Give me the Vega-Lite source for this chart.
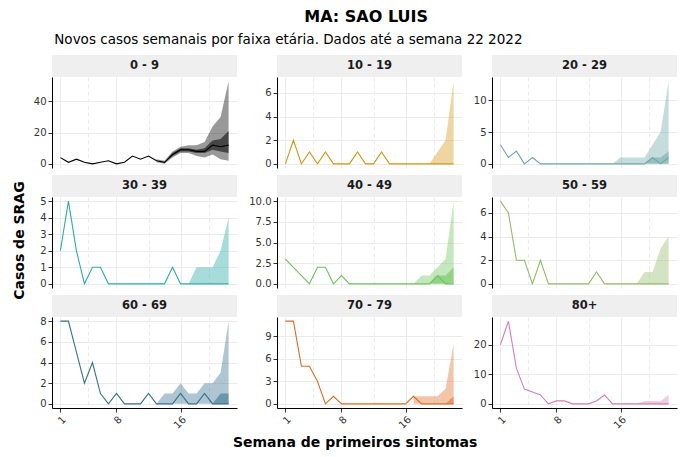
{
"$schema":"https://vega.github.io/schema/vega-lite/v6.json",
"padding":{"left":13,"top":8,"right":5,"bottom":3},
"title":{"text":"MA: SAO LUIS","fontSize":16,"fontWeight":"bold","anchor":"middle","color":"#000000","offset":8,"dx":21},
"data":{"values":[
{"g":"0 - 9","w":1,"v":4},{"g":"0 - 9","w":2,"v":1},{"g":"0 - 9","w":3,"v":3},{"g":"0 - 9","w":4,"v":1},{"g":"0 - 9","w":5,"v":0},{"g":"0 - 9","w":6,"v":1},{"g":"0 - 9","w":7,"v":2},{"g":"0 - 9","w":8,"v":0},{"g":"0 - 9","w":9,"v":1},{"g":"0 - 9","w":10,"v":5},{"g":"0 - 9","w":11,"v":3},{"g":"0 - 9","w":12,"v":5},
{"g":"0 - 9","w":13,"v":2,"lo":1,"hi":3,"lo50":2,"hi50":2},{"g":"0 - 9","w":14,"v":1,"lo":0,"hi":2,"lo50":1,"hi50":1},{"g":"0 - 9","w":15,"v":6,"lo":4,"hi":8,"lo50":5,"hi50":7},{"g":"0 - 9","w":16,"v":9,"lo":7,"hi":11,"lo50":8,"hi50":10},{"g":"0 - 9","w":17,"v":9,"lo":7,"hi":12,"lo50":8,"hi50":10},{"g":"0 - 9","w":18,"v":8,"lo":5,"hi":12,"lo50":7,"hi50":9},{"g":"0 - 9","w":19,"v":8,"lo":4,"hi":14,"lo50":7,"hi50":10},{"g":"0 - 9","w":20,"v":12,"lo":6,"hi":24,"lo50":9,"hi50":15},{"g":"0 - 9","w":21,"v":11,"lo":3,"hi":30,"lo50":8,"hi50":16},{"g":"0 - 9","w":22,"v":12,"lo":2,"hi":53,"lo50":7,"hi50":21},
{"g":"10 - 19","w":1,"v":0},{"g":"10 - 19","w":2,"v":2},{"g":"10 - 19","w":3,"v":0},{"g":"10 - 19","w":4,"v":1},{"g":"10 - 19","w":5,"v":0},{"g":"10 - 19","w":6,"v":1},{"g":"10 - 19","w":7,"v":0},{"g":"10 - 19","w":8,"v":0},{"g":"10 - 19","w":9,"v":0},{"g":"10 - 19","w":10,"v":1},{"g":"10 - 19","w":11,"v":0},{"g":"10 - 19","w":12,"v":0},{"g":"10 - 19","w":13,"v":1},{"g":"10 - 19","w":14,"v":0},{"g":"10 - 19","w":15,"v":0},{"g":"10 - 19","w":16,"v":0},{"g":"10 - 19","w":17,"v":0},{"g":"10 - 19","w":18,"v":0},
{"g":"10 - 19","w":19,"v":0,"lo":0,"hi":0},{"g":"10 - 19","w":20,"v":0,"lo":0,"hi":1},{"g":"10 - 19","w":21,"v":0,"lo":0,"hi":2},{"g":"10 - 19","w":22,"v":0,"lo":0,"hi":7},
{"g":"20 - 29","w":1,"v":3},{"g":"20 - 29","w":2,"v":1},{"g":"20 - 29","w":3,"v":2},{"g":"20 - 29","w":4,"v":0},{"g":"20 - 29","w":5,"v":1},{"g":"20 - 29","w":6,"v":0},{"g":"20 - 29","w":7,"v":0},{"g":"20 - 29","w":8,"v":0},{"g":"20 - 29","w":9,"v":0},{"g":"20 - 29","w":10,"v":0},{"g":"20 - 29","w":11,"v":0},{"g":"20 - 29","w":12,"v":0},{"g":"20 - 29","w":13,"v":0},{"g":"20 - 29","w":14,"v":0},
{"g":"20 - 29","w":15,"v":0,"lo":0,"hi":0},{"g":"20 - 29","w":16,"v":0,"lo":0,"hi":1},{"g":"20 - 29","w":17,"v":0,"lo":0,"hi":1},{"g":"20 - 29","w":18,"v":0,"lo":0,"hi":1},{"g":"20 - 29","w":19,"v":0,"lo":0,"hi":1,"lo50":0,"hi50":0},{"g":"20 - 29","w":20,"v":1,"lo":0,"hi":3,"lo50":0,"hi50":1},{"g":"20 - 29","w":21,"v":0,"lo":0,"hi":5,"lo50":0,"hi50":1},{"g":"20 - 29","w":22,"v":1,"lo":0,"hi":13,"lo50":0,"hi50":2},
{"g":"30 - 39","w":1,"v":2},{"g":"30 - 39","w":2,"v":5},{"g":"30 - 39","w":3,"v":2},{"g":"30 - 39","w":4,"v":0},{"g":"30 - 39","w":5,"v":1},{"g":"30 - 39","w":6,"v":1},{"g":"30 - 39","w":7,"v":0},{"g":"30 - 39","w":8,"v":0},{"g":"30 - 39","w":9,"v":0},{"g":"30 - 39","w":10,"v":0},{"g":"30 - 39","w":11,"v":0},{"g":"30 - 39","w":12,"v":0},{"g":"30 - 39","w":13,"v":0},{"g":"30 - 39","w":14,"v":0},{"g":"30 - 39","w":15,"v":1},{"g":"30 - 39","w":16,"v":0},
{"g":"30 - 39","w":17,"v":0,"lo":0,"hi":0},{"g":"30 - 39","w":18,"v":0,"lo":0,"hi":1},{"g":"30 - 39","w":19,"v":0,"lo":0,"hi":1},{"g":"30 - 39","w":20,"v":0,"lo":0,"hi":1},{"g":"30 - 39","w":21,"v":0,"lo":0,"hi":2},{"g":"30 - 39","w":22,"v":0,"lo":0,"hi":4},
{"g":"40 - 49","w":1,"v":3},{"g":"40 - 49","w":2,"v":2},{"g":"40 - 49","w":3,"v":1},{"g":"40 - 49","w":4,"v":0},{"g":"40 - 49","w":5,"v":2},{"g":"40 - 49","w":6,"v":2},{"g":"40 - 49","w":7,"v":0},{"g":"40 - 49","w":8,"v":1},{"g":"40 - 49","w":9,"v":0},{"g":"40 - 49","w":10,"v":0},{"g":"40 - 49","w":11,"v":0},{"g":"40 - 49","w":12,"v":0},{"g":"40 - 49","w":13,"v":0},{"g":"40 - 49","w":14,"v":0},{"g":"40 - 49","w":15,"v":0},{"g":"40 - 49","w":16,"v":0},
{"g":"40 - 49","w":17,"v":0,"lo":0,"hi":0},{"g":"40 - 49","w":18,"v":0,"lo":0,"hi":1},{"g":"40 - 49","w":19,"v":0,"lo":0,"hi":1,"lo50":0,"hi50":0},{"g":"40 - 49","w":20,"v":1,"lo":0,"hi":2,"lo50":0,"hi50":1},{"g":"40 - 49","w":21,"v":0,"lo":0,"hi":3,"lo50":0,"hi50":1},{"g":"40 - 49","w":22,"v":0,"lo":0,"hi":10,"lo50":0,"hi50":2},
{"g":"50 - 59","w":1,"v":7},{"g":"50 - 59","w":2,"v":6},{"g":"50 - 59","w":3,"v":2},{"g":"50 - 59","w":4,"v":2},{"g":"50 - 59","w":5,"v":0},{"g":"50 - 59","w":6,"v":2},{"g":"50 - 59","w":7,"v":0},{"g":"50 - 59","w":8,"v":0},{"g":"50 - 59","w":9,"v":0},{"g":"50 - 59","w":10,"v":0},{"g":"50 - 59","w":11,"v":0},{"g":"50 - 59","w":12,"v":0},{"g":"50 - 59","w":13,"v":1},{"g":"50 - 59","w":14,"v":0},{"g":"50 - 59","w":15,"v":0},{"g":"50 - 59","w":16,"v":0},{"g":"50 - 59","w":17,"v":0},
{"g":"50 - 59","w":18,"v":0,"lo":0,"hi":0},{"g":"50 - 59","w":19,"v":0,"lo":0,"hi":1},{"g":"50 - 59","w":20,"v":0,"lo":0,"hi":1},{"g":"50 - 59","w":21,"v":0,"lo":0,"hi":3},{"g":"50 - 59","w":22,"v":0,"lo":0,"hi":4},
{"g":"60 - 69","w":1,"v":8},{"g":"60 - 69","w":2,"v":8},{"g":"60 - 69","w":3,"v":5},{"g":"60 - 69","w":4,"v":2},{"g":"60 - 69","w":5,"v":4},{"g":"60 - 69","w":6,"v":1},{"g":"60 - 69","w":7,"v":0},{"g":"60 - 69","w":8,"v":1},{"g":"60 - 69","w":9,"v":0},{"g":"60 - 69","w":10,"v":0},{"g":"60 - 69","w":11,"v":0},{"g":"60 - 69","w":12,"v":1},
{"g":"60 - 69","w":13,"v":0,"lo":0,"hi":0},{"g":"60 - 69","w":14,"v":0,"lo":0,"hi":1},{"g":"60 - 69","w":15,"v":0,"lo":0,"hi":1},{"g":"60 - 69","w":16,"v":1,"lo":0,"hi":2},{"g":"60 - 69","w":17,"v":0,"lo":0,"hi":1},{"g":"60 - 69","w":18,"v":0,"lo":0,"hi":1},{"g":"60 - 69","w":19,"v":1,"lo":0,"hi":2},{"g":"60 - 69","w":20,"v":0,"lo":0,"hi":2,"lo50":0,"hi50":0},{"g":"60 - 69","w":21,"v":0,"lo":0,"hi":3,"lo50":0,"hi50":1},{"g":"60 - 69","w":22,"v":0,"lo":0,"hi":8,"lo50":0,"hi50":1},
{"g":"70 - 79","w":1,"v":11},{"g":"70 - 79","w":2,"v":11},{"g":"70 - 79","w":3,"v":5},{"g":"70 - 79","w":4,"v":5},{"g":"70 - 79","w":5,"v":3},{"g":"70 - 79","w":6,"v":0},{"g":"70 - 79","w":7,"v":1},{"g":"70 - 79","w":8,"v":0},{"g":"70 - 79","w":9,"v":0},{"g":"70 - 79","w":10,"v":0},{"g":"70 - 79","w":11,"v":0},{"g":"70 - 79","w":12,"v":0},{"g":"70 - 79","w":13,"v":0},{"g":"70 - 79","w":14,"v":0},{"g":"70 - 79","w":15,"v":0},{"g":"70 - 79","w":16,"v":0},
{"g":"70 - 79","w":17,"v":1,"lo":0,"hi":1},{"g":"70 - 79","w":18,"v":0,"lo":0,"hi":1},{"g":"70 - 79","w":19,"v":0,"lo":0,"hi":1},{"g":"70 - 79","w":20,"v":0,"lo":0,"hi":1},{"g":"70 - 79","w":21,"v":0,"lo":0,"hi":2,"lo50":0,"hi50":0},{"g":"70 - 79","w":22,"v":0,"lo":0,"hi":8,"lo50":0,"hi50":1},
{"g":"80+","w":1,"v":20},{"g":"80+","w":2,"v":28},{"g":"80+","w":3,"v":12},{"g":"80+","w":4,"v":5},{"g":"80+","w":5,"v":4},{"g":"80+","w":6,"v":3},{"g":"80+","w":7,"v":0},{"g":"80+","w":8,"v":1},{"g":"80+","w":9,"v":1},{"g":"80+","w":10,"v":0},{"g":"80+","w":11,"v":0},{"g":"80+","w":12,"v":0},{"g":"80+","w":13,"v":1},{"g":"80+","w":14,"v":3},{"g":"80+","w":15,"v":0},{"g":"80+","w":16,"v":0},{"g":"80+","w":17,"v":0},
{"g":"80+","w":18,"v":0,"lo":0,"hi":0},{"g":"80+","w":19,"v":0,"lo":0,"hi":1},{"g":"80+","w":20,"v":0,"lo":0,"hi":1},{"g":"80+","w":21,"v":0,"lo":0,"hi":1},{"g":"80+","w":22,"v":0,"lo":0,"hi":3}
]},
"vconcat":[{
"title":{"text":"Novos casos semanais por faixa etária. Dados até a semana 22 2022","fontSize":13.5,"fontWeight":"normal","anchor":"start","color":"#000000","offset":9,"dx":41},
"vconcat":[{
"title":{"text":"Casos de SRAG","orient":"left","anchor":"middle","fontSize":14,"fontWeight":"bold","color":"#000000","offset":6,"dx":12},
"vconcat":[{
"title":{"text":"Semana de primeiros sintomas","orient":"bottom","anchor":"middle","fontSize":14,"fontWeight":"bold","color":"#000000","offset":6},
"spacing":11,
"hconcat":[
{"spacing":6,"vconcat":[
{"spacing":0,"bounds":"flush","vconcat":[
 {"width":185,"height":22,"transform":[{"filter":"datum.g == '0 - 9' && datum.w == 1"}],"mark":{"type":"text","fontWeight":"bold","fontSize":11.5,"color":"#1A1A1A"},"encoding":{"text":{"field":"g"}},"view":{"fill":"#EFEFEF","stroke":null}},
 {"width":185,"height":91,"transform":[{"filter":"datum.g == '0 - 9'"}],
  "encoding":{"x":{"field":"w","type":"quantitative","scale":{"domain":[-0.05,23.05],"nice":false,"zero":false},"axis":{"values":[1,4.5,8,12,16,19.5],"tickCount":40,"format":"d","grid":true,"labels":false,"ticks":false,"domain":false,"title":null,"gridDash":{"condition":{"test":"datum.value % 1 != 0 || datum.value == 12","value":[4,3]},"value":[]}}}},
  "layer":[
   {"mark":{"type":"area","color":"#000000","opacity":0.4},"encoding":{"y":{"field":"hi","type":"quantitative","scale":{"domain":[-2.65,55.65],"nice":false,"zero":false},"axis":{"values":[0,20,40],"tickCount":40,"format":"d","title":null,"grid":true,"labelFlush":false,"labelOverlap":false}},"y2":{"field":"lo"}}},
   {"mark":{"type":"area","color":"#000000","opacity":0.55},"encoding":{"y":{"field":"hi50","type":"quantitative"},"y2":{"field":"lo50"}}},
   {"mark":{"type":"line","color":"#000000","strokeWidth":1.1},"encoding":{"y":{"field":"v","type":"quantitative"}}}
  ]}
]},
{"spacing":0,"bounds":"flush","vconcat":[
 {"width":185,"height":22,"transform":[{"filter":"datum.g == '30 - 39' && datum.w == 1"}],"mark":{"type":"text","fontWeight":"bold","fontSize":11.5,"color":"#1A1A1A"},"encoding":{"text":{"field":"g"}},"view":{"fill":"#EFEFEF","stroke":null}},
 {"width":185,"height":91,"transform":[{"filter":"datum.g == '30 - 39'"}],
  "encoding":{"x":{"field":"w","type":"quantitative","scale":{"domain":[-0.05,23.05],"nice":false,"zero":false},"axis":{"values":[1,4.5,8,12,16,19.5],"tickCount":40,"format":"d","grid":true,"labels":false,"ticks":false,"domain":false,"title":null,"gridDash":{"condition":{"test":"datum.value % 1 != 0 || datum.value == 12","value":[4,3]},"value":[]}}}},
  "layer":[
   {"mark":{"type":"area","color":"#2AAFA8","opacity":0.42},"encoding":{"y":{"field":"hi","type":"quantitative","scale":{"domain":[-0.25,5.25],"nice":false,"zero":false},"axis":{"values":[0,1,2,3,4,5],"tickCount":40,"format":"d","title":null,"grid":true,"labelFlush":false,"labelOverlap":false}},"y2":{"field":"lo"}}},
   {"mark":{"type":"area","color":"#2AAFA8","opacity":0.55},"encoding":{"y":{"field":"hi50","type":"quantitative"},"y2":{"field":"lo50"}}},
   {"mark":{"type":"line","color":"#2AAFA8","strokeWidth":1.1},"encoding":{"y":{"field":"v","type":"quantitative"}}}
  ]}
]},
{"spacing":0,"bounds":"flush","vconcat":[
 {"width":185,"height":22,"transform":[{"filter":"datum.g == '60 - 69' && datum.w == 1"}],"mark":{"type":"text","fontWeight":"bold","fontSize":11.5,"color":"#1A1A1A"},"encoding":{"text":{"field":"g"}},"view":{"fill":"#EFEFEF","stroke":null}},
 {"width":185,"height":91,"transform":[{"filter":"datum.g == '60 - 69'"}],
  "encoding":{"x":{"field":"w","type":"quantitative","scale":{"domain":[-0.05,23.05],"nice":false,"zero":false},"axis":{"values":[1,4.5,8,12,16,19.5],"tickCount":40,"format":"d","grid":true,"title":null,"labelAngle":-45,"labelOverlap":false,"labelFlush":false,"labelExpr":"datum.value % 1 != 0 || datum.value == 12 ? '' : datum.label","tickOpacity":{"condition":{"test":"datum.value % 1 != 0 || datum.value == 12","value":0},"value":1},"gridDash":{"condition":{"test":"datum.value % 1 != 0 || datum.value == 12","value":[4,3]},"value":[]}}}},
  "layer":[
   {"mark":{"type":"area","color":"#33718F","opacity":0.4},"encoding":{"y":{"field":"hi","type":"quantitative","scale":{"domain":[-0.4,8.4],"nice":false,"zero":false},"axis":{"values":[0,2,4,6,8],"tickCount":40,"format":"d","title":null,"grid":true,"labelFlush":false,"labelOverlap":false}},"y2":{"field":"lo"}}},
   {"mark":{"type":"area","color":"#33718F","opacity":0.55},"encoding":{"y":{"field":"hi50","type":"quantitative"},"y2":{"field":"lo50"}}},
   {"mark":{"type":"line","color":"#33718F","strokeWidth":1.1},"encoding":{"y":{"field":"v","type":"quantitative"}}}
  ]}
]}
]},
{"spacing":6,"vconcat":[
{"spacing":0,"bounds":"flush","vconcat":[
 {"width":185,"height":22,"transform":[{"filter":"datum.g == '10 - 19' && datum.w == 1"}],"mark":{"type":"text","fontWeight":"bold","fontSize":11.5,"color":"#1A1A1A"},"encoding":{"text":{"field":"g"}},"view":{"fill":"#EFEFEF","stroke":null}},
 {"width":185,"height":91,"transform":[{"filter":"datum.g == '10 - 19'"}],
  "encoding":{"x":{"field":"w","type":"quantitative","scale":{"domain":[-0.05,23.05],"nice":false,"zero":false},"axis":{"values":[1,4.5,8,12,16,19.5],"tickCount":40,"format":"d","grid":true,"labels":false,"ticks":false,"domain":false,"title":null,"gridDash":{"condition":{"test":"datum.value % 1 != 0 || datum.value == 12","value":[4,3]},"value":[]}}}},
  "layer":[
   {"mark":{"type":"area","color":"#D6950F","opacity":0.4},"encoding":{"y":{"field":"hi","type":"quantitative","scale":{"domain":[-0.35,7.35],"nice":false,"zero":false},"axis":{"values":[0,2,4,6],"tickCount":40,"format":"d","title":null,"grid":true,"labelFlush":false,"labelOverlap":false}},"y2":{"field":"lo"}}},
   {"mark":{"type":"area","color":"#D6950F","opacity":0.55},"encoding":{"y":{"field":"hi50","type":"quantitative"},"y2":{"field":"lo50"}}},
   {"mark":{"type":"line","color":"#D6950F","strokeWidth":1.1},"encoding":{"y":{"field":"v","type":"quantitative"}}}
  ]}
]},
{"spacing":0,"bounds":"flush","vconcat":[
 {"width":185,"height":22,"transform":[{"filter":"datum.g == '40 - 49' && datum.w == 1"}],"mark":{"type":"text","fontWeight":"bold","fontSize":11.5,"color":"#1A1A1A"},"encoding":{"text":{"field":"g"}},"view":{"fill":"#EFEFEF","stroke":null}},
 {"width":185,"height":91,"transform":[{"filter":"datum.g == '40 - 49'"}],
  "encoding":{"x":{"field":"w","type":"quantitative","scale":{"domain":[-0.05,23.05],"nice":false,"zero":false},"axis":{"values":[1,4.5,8,12,16,19.5],"tickCount":40,"format":"d","grid":true,"labels":false,"ticks":false,"domain":false,"title":null,"gridDash":{"condition":{"test":"datum.value % 1 != 0 || datum.value == 12","value":[4,3]},"value":[]}}}},
  "layer":[
   {"mark":{"type":"area","color":"#6CC35A","opacity":0.4},"encoding":{"y":{"field":"hi","type":"quantitative","scale":{"domain":[-0.5,10.5],"nice":false,"zero":false},"axis":{"values":[0,2.5,5,7.5,10],"tickCount":40,"format":".1f","title":null,"grid":true,"labelFlush":false,"labelOverlap":false}},"y2":{"field":"lo"}}},
   {"mark":{"type":"area","color":"#6CC35A","opacity":0.55},"encoding":{"y":{"field":"hi50","type":"quantitative"},"y2":{"field":"lo50"}}},
   {"mark":{"type":"line","color":"#6CC35A","strokeWidth":1.1},"encoding":{"y":{"field":"v","type":"quantitative"}}}
  ]}
]},
{"spacing":0,"bounds":"flush","vconcat":[
 {"width":185,"height":22,"transform":[{"filter":"datum.g == '70 - 79' && datum.w == 1"}],"mark":{"type":"text","fontWeight":"bold","fontSize":11.5,"color":"#1A1A1A"},"encoding":{"text":{"field":"g"}},"view":{"fill":"#EFEFEF","stroke":null}},
 {"width":185,"height":91,"transform":[{"filter":"datum.g == '70 - 79'"}],
  "encoding":{"x":{"field":"w","type":"quantitative","scale":{"domain":[-0.05,23.05],"nice":false,"zero":false},"axis":{"values":[1,4.5,8,12,16,19.5],"tickCount":40,"format":"d","grid":true,"title":null,"labelAngle":-45,"labelOverlap":false,"labelFlush":false,"labelExpr":"datum.value % 1 != 0 || datum.value == 12 ? '' : datum.label","tickOpacity":{"condition":{"test":"datum.value % 1 != 0 || datum.value == 12","value":0},"value":1},"gridDash":{"condition":{"test":"datum.value % 1 != 0 || datum.value == 12","value":[4,3]},"value":[]}}}},
  "layer":[
   {"mark":{"type":"area","color":"#DE6E26","opacity":0.4},"encoding":{"y":{"field":"hi","type":"quantitative","scale":{"domain":[-0.55,11.55],"nice":false,"zero":false},"axis":{"values":[0,3,6,9],"tickCount":40,"format":"d","title":null,"grid":true,"labelFlush":false,"labelOverlap":false}},"y2":{"field":"lo"}}},
   {"mark":{"type":"area","color":"#DE6E26","opacity":0.55},"encoding":{"y":{"field":"hi50","type":"quantitative"},"y2":{"field":"lo50"}}},
   {"mark":{"type":"line","color":"#DE6E26","strokeWidth":1.1},"encoding":{"y":{"field":"v","type":"quantitative"}}}
  ]}
]}
]},
{"spacing":6,"vconcat":[
{"spacing":0,"bounds":"flush","vconcat":[
 {"width":185,"height":22,"transform":[{"filter":"datum.g == '20 - 29' && datum.w == 1"}],"mark":{"type":"text","fontWeight":"bold","fontSize":11.5,"color":"#1A1A1A"},"encoding":{"text":{"field":"g"}},"view":{"fill":"#EFEFEF","stroke":null}},
 {"width":185,"height":91,"transform":[{"filter":"datum.g == '20 - 29'"}],
  "encoding":{"x":{"field":"w","type":"quantitative","scale":{"domain":[-0.05,23.05],"nice":false,"zero":false},"axis":{"values":[1,4.5,8,12,16,19.5],"tickCount":40,"format":"d","grid":true,"labels":false,"ticks":false,"domain":false,"title":null,"gridDash":{"condition":{"test":"datum.value % 1 != 0 || datum.value == 12","value":[4,3]},"value":[]}}}},
  "layer":[
   {"mark":{"type":"area","color":"#6FA8A8","opacity":0.4},"encoding":{"y":{"field":"hi","type":"quantitative","scale":{"domain":[-0.65,13.65],"nice":false,"zero":false},"axis":{"values":[0,5,10],"tickCount":40,"format":"d","title":null,"grid":true,"labelFlush":false,"labelOverlap":false}},"y2":{"field":"lo"}}},
   {"mark":{"type":"area","color":"#6FA8A8","opacity":0.55},"encoding":{"y":{"field":"hi50","type":"quantitative"},"y2":{"field":"lo50"}}},
   {"mark":{"type":"line","color":"#6FA8A8","strokeWidth":1.1},"encoding":{"y":{"field":"v","type":"quantitative"}}}
  ]}
]},
{"spacing":0,"bounds":"flush","vconcat":[
 {"width":185,"height":22,"transform":[{"filter":"datum.g == '50 - 59' && datum.w == 1"}],"mark":{"type":"text","fontWeight":"bold","fontSize":11.5,"color":"#1A1A1A"},"encoding":{"text":{"field":"g"}},"view":{"fill":"#EFEFEF","stroke":null}},
 {"width":185,"height":91,"transform":[{"filter":"datum.g == '50 - 59'"}],
  "encoding":{"x":{"field":"w","type":"quantitative","scale":{"domain":[-0.05,23.05],"nice":false,"zero":false},"axis":{"values":[1,4.5,8,12,16,19.5],"tickCount":40,"format":"d","grid":true,"labels":false,"ticks":false,"domain":false,"title":null,"gridDash":{"condition":{"test":"datum.value % 1 != 0 || datum.value == 12","value":[4,3]},"value":[]}}}},
  "layer":[
   {"mark":{"type":"area","color":"#93BC6A","opacity":0.4},"encoding":{"y":{"field":"hi","type":"quantitative","scale":{"domain":[-0.35,7.35],"nice":false,"zero":false},"axis":{"values":[0,2,4,6],"tickCount":40,"format":"d","title":null,"grid":true,"labelFlush":false,"labelOverlap":false}},"y2":{"field":"lo"}}},
   {"mark":{"type":"area","color":"#93BC6A","opacity":0.55},"encoding":{"y":{"field":"hi50","type":"quantitative"},"y2":{"field":"lo50"}}},
   {"mark":{"type":"line","color":"#93BC6A","strokeWidth":1.1},"encoding":{"y":{"field":"v","type":"quantitative"}}}
  ]}
]},
{"spacing":0,"bounds":"flush","vconcat":[
 {"width":185,"height":22,"transform":[{"filter":"datum.g == '80+' && datum.w == 1"}],"mark":{"type":"text","fontWeight":"bold","fontSize":11.5,"color":"#1A1A1A"},"encoding":{"text":{"field":"g"}},"view":{"fill":"#EFEFEF","stroke":null}},
 {"width":185,"height":91,"transform":[{"filter":"datum.g == '80+'"}],
  "encoding":{"x":{"field":"w","type":"quantitative","scale":{"domain":[-0.05,23.05],"nice":false,"zero":false},"axis":{"values":[1,4.5,8,12,16,19.5],"tickCount":40,"format":"d","grid":true,"title":null,"labelAngle":-45,"labelOverlap":false,"labelFlush":false,"labelExpr":"datum.value % 1 != 0 || datum.value == 12 ? '' : datum.label","tickOpacity":{"condition":{"test":"datum.value % 1 != 0 || datum.value == 12","value":0},"value":1},"gridDash":{"condition":{"test":"datum.value % 1 != 0 || datum.value == 12","value":[4,3]},"value":[]}}}},
  "layer":[
   {"mark":{"type":"area","color":"#D67FB2","opacity":0.4},"encoding":{"y":{"field":"hi","type":"quantitative","scale":{"domain":[-1.4,29.4],"nice":false,"zero":false},"axis":{"values":[0,10,20],"tickCount":40,"format":"d","title":null,"grid":true,"labelFlush":false,"labelOverlap":false}},"y2":{"field":"lo"}}},
   {"mark":{"type":"area","color":"#D67FB2","opacity":0.55},"encoding":{"y":{"field":"hi50","type":"quantitative"},"y2":{"field":"lo50"}}},
   {"mark":{"type":"line","color":"#D67FB2","strokeWidth":1.1},"encoding":{"y":{"field":"v","type":"quantitative"}}}
  ]}
]}
]}
]}]}]}],
"config":{
 "font":"DejaVu Sans",
 "view":{"stroke":null},
 "axis":{"labelFontSize":10,"labelColor":"#333333","domainColor":"#000000","tickColor":"#333333","tickSize":4,"labelPadding":2,"gridColor":"#EBEBEB","titleFontSize":14,"titleFontWeight":"bold","titleColor":"#000000"}
}
}
